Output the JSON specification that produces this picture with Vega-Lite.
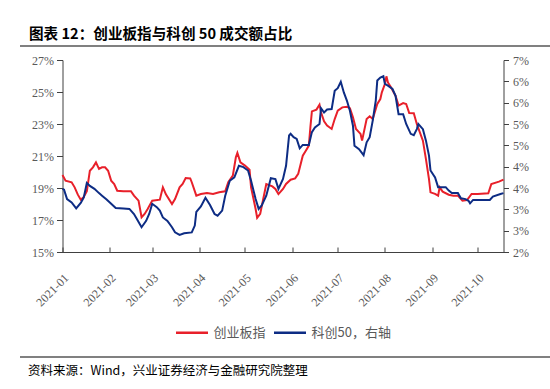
{
  "$schema": "https://vega.github.io/schema/vega-lite/v6.json",
  "padding": {"top": 27, "left": 0, "right": 0, "bottom": 0},
  "background": "white",
  "config": {
    "view": {"stroke": null},
    "font": "Noto Sans CJK SC",
    "legend": {"layout": {"bottom": {"anchor": "middle"}}}
  },
  "datasets": {
    "cyb": [
      {"date": "2021-01-04", "series": "创业板指", "value": 0.1981},
      {"date": "2021-01-06", "series": "创业板指", "value": 0.1946},
      {"date": "2021-01-10", "series": "创业板指", "value": 0.1936},
      {"date": "2021-01-12", "series": "创业板指", "value": 0.1904},
      {"date": "2021-01-14", "series": "创业板指", "value": 0.1860},
      {"date": "2021-01-16", "series": "创业板指", "value": 0.1827},
      {"date": "2021-01-18", "series": "创业板指", "value": 0.1844},
      {"date": "2021-01-20", "series": "创业板指", "value": 0.1880},
      {"date": "2021-01-22", "series": "创业板指", "value": 0.2008},
      {"date": "2021-01-24", "series": "创业板指", "value": 0.2029},
      {"date": "2021-01-26", "series": "创业板指", "value": 0.2060},
      {"date": "2021-01-28", "series": "创业板指", "value": 0.2019},
      {"date": "2021-01-30", "series": "创业板指", "value": 0.2029},
      {"date": "2021-02-01", "series": "创业板指", "value": 0.2029},
      {"date": "2021-02-03", "series": "创业板指", "value": 0.2008},
      {"date": "2021-02-05", "series": "创业板指", "value": 0.1946},
      {"date": "2021-02-07", "series": "创业板指", "value": 0.1925},
      {"date": "2021-02-09", "series": "创业板指", "value": 0.1883},
      {"date": "2021-02-13", "series": "创业板指", "value": 0.1879},
      {"date": "2021-02-18", "series": "创业板指", "value": 0.1880},
      {"date": "2021-02-20", "series": "创业板指", "value": 0.1852},
      {"date": "2021-02-23", "series": "创业板指", "value": 0.1821},
      {"date": "2021-02-25", "series": "创业板指", "value": 0.1717},
      {"date": "2021-02-27", "series": "创业板指", "value": 0.1738},
      {"date": "2021-03-01", "series": "创业板指", "value": 0.1769},
      {"date": "2021-03-04", "series": "创业板指", "value": 0.1821},
      {"date": "2021-03-09", "series": "创业板指", "value": 0.1827},
      {"date": "2021-03-11", "series": "创业板指", "value": 0.1904},
      {"date": "2021-03-13", "series": "创业板指", "value": 0.1860},
      {"date": "2021-03-17", "series": "创业板指", "value": 0.1800},
      {"date": "2021-03-19", "series": "创业板指", "value": 0.1831},
      {"date": "2021-03-22", "series": "创业板指", "value": 0.1904},
      {"date": "2021-03-24", "series": "创业板指", "value": 0.1925},
      {"date": "2021-03-26", "series": "创业板指", "value": 0.1962},
      {"date": "2021-03-29", "series": "创业板指", "value": 0.1960},
      {"date": "2021-03-30", "series": "创业板指", "value": 0.1936},
      {"date": "2021-04-02", "series": "创业板指", "value": 0.1852},
      {"date": "2021-04-05", "series": "创业板指", "value": 0.1862},
      {"date": "2021-04-09", "series": "创业板指", "value": 0.1869},
      {"date": "2021-04-13", "series": "创业板指", "value": 0.1862},
      {"date": "2021-04-17", "series": "创业板指", "value": 0.1873},
      {"date": "2021-04-21", "series": "创业板指", "value": 0.1879},
      {"date": "2021-04-23", "series": "创业板指", "value": 0.1936},
      {"date": "2021-04-26", "series": "创业板指", "value": 0.1977},
      {"date": "2021-04-28", "series": "创业板指", "value": 0.2092},
      {"date": "2021-04-29", "series": "创业板指", "value": 0.2119},
      {"date": "2021-05-01", "series": "创业板指", "value": 0.2060},
      {"date": "2021-05-04", "series": "创业板指", "value": 0.2040},
      {"date": "2021-05-07", "series": "创业板指", "value": 0.2014},
      {"date": "2021-05-08", "series": "创业板指", "value": 0.1904},
      {"date": "2021-05-11", "series": "创业板指", "value": 0.1769},
      {"date": "2021-05-12", "series": "创业板指", "value": 0.1713},
      {"date": "2021-05-14", "series": "创业板指", "value": 0.1738},
      {"date": "2021-05-16", "series": "创业板指", "value": 0.1831},
      {"date": "2021-05-18", "series": "创业板指", "value": 0.1925},
      {"date": "2021-05-22", "series": "创业板指", "value": 0.1910},
      {"date": "2021-05-24", "series": "创业板指", "value": 0.1894},
      {"date": "2021-05-26", "series": "创业板指", "value": 0.1862},
      {"date": "2021-05-29", "series": "创业板指", "value": 0.1894},
      {"date": "2021-05-31", "series": "创业板指", "value": 0.1925},
      {"date": "2021-06-03", "series": "创业板指", "value": 0.1952},
      {"date": "2021-06-06", "series": "创业板指", "value": 0.1960},
      {"date": "2021-06-08", "series": "创业板指", "value": 0.1988},
      {"date": "2021-06-11", "series": "创业板指", "value": 0.2102},
      {"date": "2021-06-13", "series": "创业板指", "value": 0.2133},
      {"date": "2021-06-15", "series": "创业板指", "value": 0.2165},
      {"date": "2021-06-16", "series": "创业板指", "value": 0.2279},
      {"date": "2021-06-17", "series": "创业板指", "value": 0.2379},
      {"date": "2021-06-20", "series": "创业板指", "value": 0.2390},
      {"date": "2021-06-22", "series": "创业板指", "value": 0.2421},
      {"date": "2021-06-23", "series": "创业板指", "value": 0.2373},
      {"date": "2021-06-25", "series": "创业板指", "value": 0.2317},
      {"date": "2021-06-27", "series": "创业板指", "value": 0.2290},
      {"date": "2021-06-30", "series": "创业板指", "value": 0.2269},
      {"date": "2021-07-02", "series": "创业板指", "value": 0.2331},
      {"date": "2021-07-04", "series": "创业板指", "value": 0.2383},
      {"date": "2021-07-07", "series": "创业板指", "value": 0.2404},
      {"date": "2021-07-10", "series": "创业板指", "value": 0.2408},
      {"date": "2021-07-12", "series": "创业板指", "value": 0.2398},
      {"date": "2021-07-14", "series": "创业板指", "value": 0.2342},
      {"date": "2021-07-16", "series": "创业板指", "value": 0.2269},
      {"date": "2021-07-19", "series": "创业板指", "value": 0.2238},
      {"date": "2021-07-20", "series": "创业板指", "value": 0.2196},
      {"date": "2021-07-23", "series": "创业板指", "value": 0.2331},
      {"date": "2021-07-25", "series": "创业板指", "value": 0.2348},
      {"date": "2021-07-27", "series": "创业板指", "value": 0.2331},
      {"date": "2021-07-30", "series": "创业板指", "value": 0.2425},
      {"date": "2021-08-01", "series": "创业板指", "value": 0.2456},
      {"date": "2021-08-02", "series": "创业板指", "value": 0.2498},
      {"date": "2021-08-04", "series": "创业板指", "value": 0.2550},
      {"date": "2021-08-05", "series": "创业板指", "value": 0.2598},
      {"date": "2021-08-06", "series": "创业板指", "value": 0.2560},
      {"date": "2021-08-08", "series": "创业板指", "value": 0.2529},
      {"date": "2021-08-11", "series": "创业板指", "value": 0.2477},
      {"date": "2021-08-13", "series": "创业板指", "value": 0.2415},
      {"date": "2021-08-16", "series": "创业板指", "value": 0.2431},
      {"date": "2021-08-18", "series": "创业板指", "value": 0.2425},
      {"date": "2021-08-20", "series": "创业板指", "value": 0.2369},
      {"date": "2021-08-23", "series": "创业板指", "value": 0.2367},
      {"date": "2021-08-25", "series": "创业板指", "value": 0.2300},
      {"date": "2021-08-27", "series": "创业板指", "value": 0.2248},
      {"date": "2021-08-29", "series": "创业板指", "value": 0.2196},
      {"date": "2021-08-31", "series": "创业板指", "value": 0.2081},
      {"date": "2021-09-02", "series": "创业板指", "value": 0.1956},
      {"date": "2021-09-03", "series": "创业板指", "value": 0.1873},
      {"date": "2021-09-06", "series": "创业板指", "value": 0.1863},
      {"date": "2021-09-08", "series": "创业板指", "value": 0.1852},
      {"date": "2021-09-09", "series": "创业板指", "value": 0.1904},
      {"date": "2021-09-11", "series": "创业板指", "value": 0.1877},
      {"date": "2021-09-15", "series": "创业板指", "value": 0.1858},
      {"date": "2021-09-18", "series": "创业板指", "value": 0.1852},
      {"date": "2021-09-21", "series": "创业板指", "value": 0.1852},
      {"date": "2021-09-24", "series": "创业板指", "value": 0.1821},
      {"date": "2021-09-27", "series": "创业板指", "value": 0.1825},
      {"date": "2021-09-30", "series": "创业板指", "value": 0.1863},
      {"date": "2021-10-04", "series": "创业板指", "value": 0.1863},
      {"date": "2021-10-11", "series": "创业板指", "value": 0.1867},
      {"date": "2021-10-13", "series": "创业板指", "value": 0.1925},
      {"date": "2021-10-18", "series": "创业板指", "value": 0.1940},
      {"date": "2021-10-21", "series": "创业板指", "value": 0.1952}
    ],
    "kc": [
      {"date": "2021-01-04", "series": "科创50，右轴", "value": 0.0348},
      {"date": "2021-01-05", "series": "科创50，右轴", "value": 0.0346},
      {"date": "2021-01-07", "series": "科创50，右轴", "value": 0.0324},
      {"date": "2021-01-10", "series": "科创50，右轴", "value": 0.0316},
      {"date": "2021-01-13", "series": "科创50，右轴", "value": 0.0302},
      {"date": "2021-01-16", "series": "科创50，右轴", "value": 0.0315},
      {"date": "2021-01-18", "series": "科创50，右轴", "value": 0.0328},
      {"date": "2021-01-20", "series": "科创50，右轴", "value": 0.0362},
      {"date": "2021-01-22", "series": "科创50，右轴", "value": 0.0355},
      {"date": "2021-01-25", "series": "科创50，右轴", "value": 0.0348},
      {"date": "2021-01-28", "series": "科创50，右轴", "value": 0.0338},
      {"date": "2021-01-30", "series": "科创50，右轴", "value": 0.0332},
      {"date": "2021-02-02", "series": "科创50，右轴", "value": 0.0323},
      {"date": "2021-02-05", "series": "科创50，右轴", "value": 0.0313},
      {"date": "2021-02-08", "series": "科创50，右轴", "value": 0.0303},
      {"date": "2021-02-13", "series": "科创50，右轴", "value": 0.0302},
      {"date": "2021-02-17", "series": "科创50，右轴", "value": 0.0301},
      {"date": "2021-02-20", "series": "科创50，右轴", "value": 0.0289},
      {"date": "2021-02-22", "series": "科创50，右轴", "value": 0.0277},
      {"date": "2021-02-25", "series": "科创50，右轴", "value": 0.0258},
      {"date": "2021-02-28", "series": "科创50，右轴", "value": 0.0273},
      {"date": "2021-03-02", "series": "科创50，右轴", "value": 0.0289},
      {"date": "2021-03-04", "series": "科创50，右轴", "value": 0.0313},
      {"date": "2021-03-07", "series": "科创50，右轴", "value": 0.0305},
      {"date": "2021-03-09", "series": "科创50，右轴", "value": 0.0297},
      {"date": "2021-03-11", "series": "科创50，右轴", "value": 0.0281},
      {"date": "2021-03-14", "series": "科创50，右轴", "value": 0.0273},
      {"date": "2021-03-17", "series": "科创50，右轴", "value": 0.0258},
      {"date": "2021-03-19", "series": "科创50，右轴", "value": 0.0246},
      {"date": "2021-03-22", "series": "科创50，右轴", "value": 0.0240},
      {"date": "2021-03-25", "series": "科创50，右轴", "value": 0.0244},
      {"date": "2021-03-30", "series": "科创50，右轴", "value": 0.0246},
      {"date": "2021-04-01", "series": "科创50，右轴", "value": 0.0262},
      {"date": "2021-04-02", "series": "科创50，右轴", "value": 0.0294},
      {"date": "2021-04-05", "series": "科创50，右轴", "value": 0.0307},
      {"date": "2021-04-08", "series": "科创50，右轴", "value": 0.0327},
      {"date": "2021-04-11", "series": "科创50，右轴", "value": 0.0310},
      {"date": "2021-04-14", "series": "科创50，右轴", "value": 0.0289},
      {"date": "2021-04-16", "series": "科创50，右轴", "value": 0.0285},
      {"date": "2021-04-19", "series": "科创50，右轴", "value": 0.0297},
      {"date": "2021-04-21", "series": "科创50，右轴", "value": 0.0332},
      {"date": "2021-04-24", "series": "科创50，右轴", "value": 0.0367},
      {"date": "2021-04-27", "series": "科创50，右轴", "value": 0.0375},
      {"date": "2021-04-30", "series": "科创50，右轴", "value": 0.0402},
      {"date": "2021-05-03", "series": "科创50，右轴", "value": 0.0399},
      {"date": "2021-05-06", "series": "科创50，右轴", "value": 0.0391},
      {"date": "2021-05-08", "series": "科创50，右轴", "value": 0.0367},
      {"date": "2021-05-11", "series": "科创50，右轴", "value": 0.0324},
      {"date": "2021-05-13", "series": "科创50，右轴", "value": 0.0301},
      {"date": "2021-05-15", "series": "科创50，右轴", "value": 0.0309},
      {"date": "2021-05-18", "series": "科创50，右轴", "value": 0.0332},
      {"date": "2021-05-21", "series": "科创50，右轴", "value": 0.0373},
      {"date": "2021-05-24", "series": "科创50，右轴", "value": 0.0371},
      {"date": "2021-05-26", "series": "科创50，右轴", "value": 0.0348},
      {"date": "2021-05-29", "series": "科创50，右轴", "value": 0.0371},
      {"date": "2021-05-31", "series": "科创50，右轴", "value": 0.0402},
      {"date": "2021-06-02", "series": "科创50，右轴", "value": 0.0473},
      {"date": "2021-06-03", "series": "科创50，右轴", "value": 0.0477},
      {"date": "2021-06-05", "series": "科创50，右轴", "value": 0.0469},
      {"date": "2021-06-07", "series": "科创50，右轴", "value": 0.0465},
      {"date": "2021-06-09", "series": "科创50，右轴", "value": 0.0443},
      {"date": "2021-06-11", "series": "科创50，右轴", "value": 0.0451},
      {"date": "2021-06-15", "series": "科创50，右轴", "value": 0.0451},
      {"date": "2021-06-17", "series": "科创50，右轴", "value": 0.0481},
      {"date": "2021-06-19", "series": "科创50，右轴", "value": 0.0492},
      {"date": "2021-06-22", "series": "科创50，右轴", "value": 0.0500},
      {"date": "2021-06-23", "series": "科创50，右轴", "value": 0.0537},
      {"date": "2021-06-25", "series": "科创50，右轴", "value": 0.0527},
      {"date": "2021-06-27", "series": "科创50，右轴", "value": 0.0534},
      {"date": "2021-06-30", "series": "科创50，右轴", "value": 0.0535},
      {"date": "2021-07-02", "series": "科创50，右轴", "value": 0.0578},
      {"date": "2021-07-04", "series": "科创50，右轴", "value": 0.0584},
      {"date": "2021-07-06", "series": "科创50，右轴", "value": 0.0599},
      {"date": "2021-07-08", "series": "科创50，右轴", "value": 0.0574},
      {"date": "2021-07-10", "series": "科创50，右轴", "value": 0.0555},
      {"date": "2021-07-12", "series": "科创50，右轴", "value": 0.0531},
      {"date": "2021-07-14", "series": "科创50，右轴", "value": 0.0496},
      {"date": "2021-07-15", "series": "科创50，右轴", "value": 0.0449},
      {"date": "2021-07-18", "series": "科创50，右轴", "value": 0.0441},
      {"date": "2021-07-21", "series": "科创50，右轴", "value": 0.0427},
      {"date": "2021-07-23", "series": "科创50，右轴", "value": 0.0457},
      {"date": "2021-07-25", "series": "科创50，右轴", "value": 0.0469},
      {"date": "2021-07-27", "series": "科创50，右轴", "value": 0.0508},
      {"date": "2021-07-29", "series": "科创50，右轴", "value": 0.0555},
      {"date": "2021-07-30", "series": "科创50，右轴", "value": 0.0602},
      {"date": "2021-08-01", "series": "科创50，右轴", "value": 0.0609},
      {"date": "2021-08-03", "series": "科创50，右轴", "value": 0.0612},
      {"date": "2021-08-04", "series": "科创50，右轴", "value": 0.0594},
      {"date": "2021-08-06", "series": "科创50，右轴", "value": 0.0590},
      {"date": "2021-08-09", "series": "科创50，右轴", "value": 0.0582},
      {"date": "2021-08-11", "series": "科创50，右轴", "value": 0.0566},
      {"date": "2021-08-13", "series": "科创50，右轴", "value": 0.0523},
      {"date": "2021-08-16", "series": "科创50，右轴", "value": 0.0523},
      {"date": "2021-08-18", "series": "科创50，右轴", "value": 0.0500},
      {"date": "2021-08-21", "series": "科创50，右轴", "value": 0.0477},
      {"date": "2021-08-23", "series": "科创50，右轴", "value": 0.0474},
      {"date": "2021-08-25", "series": "科创50，右轴", "value": 0.0488},
      {"date": "2021-08-26", "series": "科创50，右轴", "value": 0.0500},
      {"date": "2021-08-29", "series": "科创50，右轴", "value": 0.0488},
      {"date": "2021-08-31", "series": "科创50，右轴", "value": 0.0461},
      {"date": "2021-09-02", "series": "科创50，右轴", "value": 0.0426},
      {"date": "2021-09-03", "series": "科创50，右轴", "value": 0.0391},
      {"date": "2021-09-06", "series": "科创50，右轴", "value": 0.0375},
      {"date": "2021-09-08", "series": "科创50，右轴", "value": 0.0352},
      {"date": "2021-09-10", "series": "科创50，右轴", "value": 0.0352},
      {"date": "2021-09-13", "series": "科创50，右轴", "value": 0.0352},
      {"date": "2021-09-15", "series": "科创50，右轴", "value": 0.0344},
      {"date": "2021-09-17", "series": "科创50，右轴", "value": 0.0338},
      {"date": "2021-09-21", "series": "科创50，右轴", "value": 0.0338},
      {"date": "2021-09-23", "series": "科创50，右轴", "value": 0.0326},
      {"date": "2021-09-26", "series": "科创50，右轴", "value": 0.0324},
      {"date": "2021-09-28", "series": "科创50，右轴", "value": 0.0320},
      {"date": "2021-09-29", "series": "科创50，右轴", "value": 0.0314},
      {"date": "2021-10-01", "series": "科创50，右轴", "value": 0.0322},
      {"date": "2021-10-07", "series": "科创50，右轴", "value": 0.0322},
      {"date": "2021-10-12", "series": "科创50，右轴", "value": 0.0322},
      {"date": "2021-10-14", "series": "科创50，右轴", "value": 0.0330},
      {"date": "2021-10-19", "series": "科创50，右轴", "value": 0.0336},
      {"date": "2021-10-21", "series": "科创50，右轴", "value": 0.0338}
    ]
  },
  "resolve": {"scale": {"color": "independent"}},
  "columns": 1,
  "center": true,
  "spacing": 7,
  "concat": [
    {
      "width": 550,
      "height": 1,
      "title": {"text": "图表 12：创业板指与科创 50 成交额占比", "anchor": "start", "fontSize": 14.6, "fontWeight": "bold", "color": "#000000", "offset": 3, "dx": 10, "font": "Noto Sans CJK SC"},
      "data": {"values": [{}]},
      "mark": {"type": "rule", "color": "#808080", "strokeWidth": 2},
      "encoding": {"y": {"datum": 0, "type": "quantitative", "scale": {"domain": [0, 1]}, "axis": null}}
    },
    {
      "width": 441,
      "height": 192,
      "resolve": {"scale": {"y": "independent"}},
      "layer": [
        {
          "data": {"name": "cyb"},
          "mark": {"type": "line", "strokeWidth": 2},
          "encoding": {
            "x": {
              "field": "date", "type": "temporal",
              "scale": {"type": "utc", "domain": [{"year": 2021, "month": 1, "date": 4, "utc": true}, {"year": 2021, "month": 10, "date": 21, "utc": true}]},
              "axis": {
                "title": null, "format": "%Y-%m", "labelAngle": -45,
                "values": [
                  {"year": 2021, "month": 1, "date": 4, "utc": true},
                  {"year": 2021, "month": 2, "date": 4, "utc": true},
                  {"year": 2021, "month": 3, "date": 4, "utc": true},
                  {"year": 2021, "month": 4, "date": 4, "utc": true},
                  {"year": 2021, "month": 5, "date": 4, "utc": true},
                  {"year": 2021, "month": 6, "date": 4, "utc": true},
                  {"year": 2021, "month": 7, "date": 4, "utc": true},
                  {"year": 2021, "month": 8, "date": 4, "utc": true},
                  {"year": 2021, "month": 9, "date": 4, "utc": true},
                  {"year": 2021, "month": 10, "date": 4, "utc": true}
                ],
                "grid": false, "tickSize": -5, "labelPadding": 25,
                "labelFont": "Liberation Serif", "labelFontSize": 12, "labelColor": "#595959",
                "domainColor": "#404040", "tickColor": "#404040", "labelOverlap": false, "labelFlush": false
              }
            },
            "y": {
              "field": "value", "type": "quantitative",
              "scale": {"domain": [0.15, 0.27], "zero": false, "nice": false},
              "axis": {
                "title": null, "orient": "left", "values": [0.15, 0.17, 0.19, 0.21, 0.23, 0.25, 0.27],
                "format": ".0%", "grid": false, "tickSize": 6, "labelPadding": 3, "minExtent": 62,
                "labelFont": "Liberation Serif", "labelFontSize": 12, "labelColor": "#595959",
                "domainColor": "#404040", "tickColor": "#404040"
              }
            },
            "color": {
              "field": "series", "type": "nominal",
              "scale": {"domain": ["创业板指", "科创50，右轴"], "range": ["#e8202a", "#0d2c84"]},
              "legend": {
                "orient": "bottom", "direction": "horizontal", "title": null,
                "symbolType": "stroke", "symbolSize": 1024, "symbolStrokeWidth": 2.5,
                "labelFont": "Noto Sans CJK SC", "labelFontSize": 13, "labelColor": "#595959",
                "labelOffset": 4, "columnPadding": 2, "offset": -3, "padding": 9
              }
            }
          }
        },
        {
          "data": {"name": "kc"},
          "mark": {"type": "line", "strokeWidth": 2},
          "encoding": {
            "x": {"field": "date", "type": "temporal"},
            "y": {
              "field": "value", "type": "quantitative",
              "scale": {"domain": [0.02, 0.065], "zero": false, "nice": false},
              "axis": {
                "title": null, "orient": "right",
                "values": [0.02, 0.025, 0.03, 0.035, 0.04, 0.045, 0.05, 0.055, 0.06, 0.065],
                "labelExpr": "round(datum.value * 100) + '%'", "grid": false, "tickSize": 5, "labelPadding": 4,
                "labelFont": "Liberation Serif", "labelFontSize": 12, "labelColor": "#595959",
                "domainColor": "#404040", "tickColor": "#404040"
              }
            },
            "color": {"field": "series", "type": "nominal"}
          }
        }
      ]
    },
    {
      "width": 550,
      "height": 1,
      "title": {"text": "资料来源：Wind，兴业证券经济与金融研究院整理", "orient": "bottom", "anchor": "start", "fontSize": 12.5, "fontWeight": "normal", "color": "#000000", "offset": 7, "dx": 9, "font": "Noto Sans CJK SC"},
      "data": {"values": [{}]},
      "mark": {"type": "rule", "color": "#808080", "strokeWidth": 2},
      "encoding": {"y": {"datum": 1, "type": "quantitative", "scale": {"domain": [0, 1]}, "axis": null}}
    }
  ]
}
